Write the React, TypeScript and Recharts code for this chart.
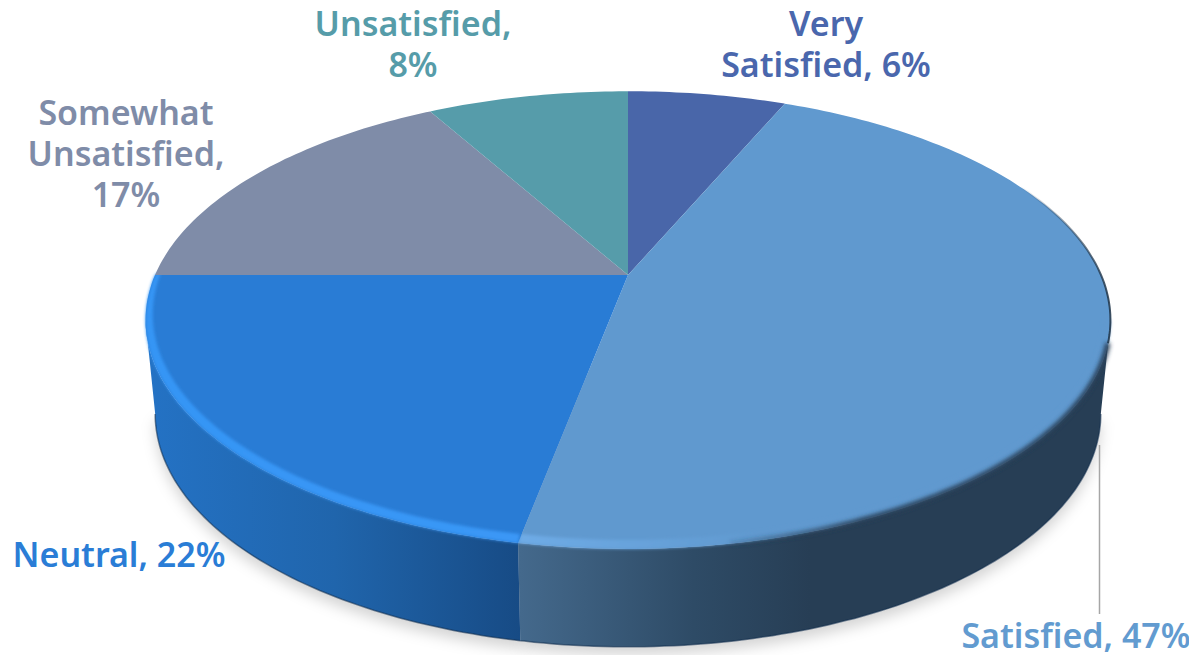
import { Pie, PieChart } from 'recharts'

const categories = ['Very Satisfied', 'Satisfied', 'Neutral', 'Somewhat Unsatisfied', 'Unsatisfied']
// shown rounded in the labels, the slice edges sit a little off the whole numbers
const shares = [6.4, 46.6, 22, 16.85, 8.15]
const labelLines = [
  ['Very', 'Satisfied, 6%'],
  ['Satisfied, 47%'],
  ['Neutral, 22%'],
  ['Somewhat', 'Unsatisfied,', '17%'],
  ['Unsatisfied,', '8%'],
]
const sliceColors = ['#4966a9', '#6099cf', '#297cd5', '#7f8ca8', '#569caa']
const labelColors = ['#4a67ad', '#629bd0', '#2a7dd6', '#7f8ca8', '#569ca9']
const labelSpots = [
  { x: 826, y: 36 },
  { x: 1076, y: 648 },
  { x: 119, y: 567 },
  { x: 126, y: 125 },
  { x: 413, y: 36 },
]

const pieRows = categories.map((name, i) => ({ name, value: shares[i] }))

// fake perspective: the circle of the pie goes through a projective map
const TILT = 0.197
const SQUASH = 0.465
const BOTTOM_SQUASH = 0.483
const DEPTH = 93
const BOTTOM_SCALE = 0.98
const RAD = Math.PI / 180
// clockwise-from-top angles where the side wall meets the silhouette
const FRONT_FROM = 101.4
const FRONT_TO = 258.6

type Pt = [number, number]

function rimPoint(angle: number, cx: number, cy: number, r: number, squash: number): Pt {
  const u = Math.cos(angle * RAD)
  const v = -Math.sin(angle * RAD)
  const w = 1 - TILT * v
  return [cx + (r * u) / w, cy + (r * squash * v) / w]
}

function arcPoints(start: number, end: number, cx: number, cy: number, r: number, squash = SQUASH) {
  const pts: Pt[] = []
  for (let a = start; a > end; a -= 1) pts.push(rimPoint(a, cx, cy, r, squash))
  pts.push(rimPoint(end, cx, cy, r, squash))
  return pts
}

function toPath(pts: Pt[], close = true) {
  const body = pts.map((p, i) => `${i ? 'L' : 'M'}${p[0].toFixed(1)} ${p[1].toFixed(1)}`).join(' ')
  return close ? `${body} Z` : body
}

function frontRange(startAngle: number, endAngle: number) {
  const from = Math.max(90 - startAngle, FRONT_FROM)
  const to = Math.min(90 - endAngle, FRONT_TO)
  return from < to ? [90 - from, 90 - to] : null
}

function TopSlice(props: any) {
  const { cx, cy, outerRadius, startAngle, endAngle, fill, index } = props
  const face = toPath([[cx, cy], ...arcPoints(startAngle, endAngle, cx, cy, outerRadius)])
  let bevel = null
  const range = frontRange(startAngle, endAngle)
  if (range) {
    // bevel runs right up to the slice edge on the left, only front part on the right
    const to = index === 2 ? endAngle : range[1]
    const outer = arcPoints(range[0], to, cx, cy, outerRadius)
    const inner = arcPoints(range[0], to, cx, cy - 5, outerRadius * 0.985).reverse()
    bevel = <path d={toPath([...outer, ...inner])} fill={`url(#bevel-${index})`} filter="url(#soft)" />
  }
  let rim = null
  if (index === 1) {
    const front = arcPoints(90 - 107, 90 - 170, cx, cy, outerRadius)
    const back = arcPoints(90 - 48, 90 - 107, cx, cy, outerRadius)
    rim = (
      <g>
        <path d={toPath(front, false)} fill="none" stroke="url(#rim-front)" strokeWidth={5} filter="url(#rim-blur)" />
        <path d={toPath(back, false)} fill="none" stroke="url(#rim-back)" strokeWidth={2} />
      </g>
    )
  }
  return (
    <g>
      <path d={face} fill={fill} />
      {bevel}
      {rim}
    </g>
  )
}

function SideSlice(props: any) {
  const { cx, cy, outerRadius, startAngle, endAngle, index } = props
  const range = frontRange(startAngle, endAngle)
  if (!range) return <g />
  const top = arcPoints(range[0], range[1], cx, cy, outerRadius)
  const bottom = arcPoints(range[0], range[1], cx, cy + DEPTH, outerRadius * BOTTOM_SCALE, BOTTOM_SQUASH)
  return (
    <g>
      <path d={toPath([...top, ...[...bottom].reverse()])} fill={`url(#side-${index})`} />
      <path d={toPath(bottom, false)} fill="none" stroke="#0e2c4c" strokeOpacity={0.55} strokeWidth={1.5} />
    </g>
  )
}

function ShadowSlice(props: any) {
  const { cx, cy, outerRadius, startAngle, endAngle } = props
  const range = frontRange(startAngle, endAngle)
  if (!range) return <g />
  const pts = arcPoints(range[0], range[1], cx, cy + DEPTH + 8, outerRadius * BOTTOM_SCALE, BOTTOM_SQUASH)
  return <path d={toPath([[cx, cy + DEPTH], ...pts])} fill="#000000" fillOpacity={0.17} filter="url(#shadow)" />
}

function renderLabel(props: any) {
  const { index } = props
  const spot = labelSpots[index]
  return (
    <text
      x={spot.x}
      y={spot.y}
      textAnchor="middle"
      fill={labelColors[index]}
      fontFamily="'Noto Sans', sans-serif"
      fontWeight={600}
      fontSize={34}
      style={{ fontVariantLigatures: 'none' }}
    >
      {labelLines[index].map((line, i) => (
        <tspan key={line} x={spot.x} dy={i ? 41 : 0}>
          {line}
        </tspan>
      ))}
    </text>
  )
}

function renderLeader(props: any) {
  if (props.index !== 1) return <g />
  return <line x1={1099.5} y1={445} x2={1099.5} y2={614} stroke="#a6a6a6" strokeWidth={1.5} />
}

export default function App() {
  return (
    <div style={{ margin: '-8px 0 0 -8px', width: 1197, height: 655 }}>
      <PieChart width={1197} height={655} margin={{ top: 0, right: 0, bottom: 0, left: 0 }}>
        <defs>
          <filter id="soft" x="-5%" y="-5%" width="110%" height="110%">
            <feGaussianBlur stdDeviation="1.6" />
          </filter>
          <filter id="rim-blur" x="-5%" y="-5%" width="110%" height="110%">
            <feGaussianBlur stdDeviation="2" />
          </filter>
          <filter id="shadow" x="-10%" y="-10%" width="120%" height="120%">
            <feGaussianBlur stdDeviation="7" />
          </filter>
          <linearGradient id="side-2" gradientUnits="userSpaceOnUse" x1={150} y1={0} x2={520} y2={0}>
            <stop offset="0" stopColor="#2472c4" />
            <stop offset="0.5" stopColor="#2065ac" />
            <stop offset="1" stopColor="#174b85" />
          </linearGradient>
          <linearGradient id="side-1" gradientUnits="userSpaceOnUse" x1={520} y1={0} x2={810} y2={0}>
            <stop offset="0" stopColor="#44698c" />
            <stop offset="0.6" stopColor="#2e4b66" />
            <stop offset="1" stopColor="#273e55" />
          </linearGradient>
          <linearGradient id="bevel-2" gradientUnits="userSpaceOnUse" x1={150} y1={0} x2={520} y2={0}>
            <stop offset="0" stopColor="#3595f5" />
            <stop offset="1" stopColor="#3a97f6" />
          </linearGradient>
          <linearGradient id="bevel-1" gradientUnits="userSpaceOnUse" x1={520} y1={0} x2={760} y2={0}>
            <stop offset="0" stopColor="#6eabe6" />
            <stop offset="1" stopColor="#6099cf" />
          </linearGradient>
          <linearGradient id="rim-front" gradientUnits="userSpaceOnUse" x1={700} y1={0} x2={860} y2={0}>
            <stop offset="0" stopColor="#273e55" stopOpacity={0} />
            <stop offset="1" stopColor="#273e55" stopOpacity={1} />
          </linearGradient>
          <linearGradient id="rim-back" gradientUnits="userSpaceOnUse" x1={1020} y1={0} x2={1108} y2={0}>
            <stop offset="0" stopColor="#1e3347" stopOpacity={0} />
            <stop offset="1" stopColor="#1e3347" stopOpacity={0.85} />
          </linearGradient>
        </defs>
        <Pie
          data={pieRows}
          dataKey="value"
          nameKey="name"
          cx={628}
          cy={275}
          outerRadius={473}
          startAngle={90}
          endAngle={-270}
          shape={ShadowSlice}
          isAnimationActive={false}
        />
        <Pie
          data={pieRows}
          dataKey="value"
          nameKey="name"
          cx={628}
          cy={275}
          outerRadius={473}
          startAngle={90}
          endAngle={-270}
          shape={SideSlice}
          isAnimationActive={false}
        />
        <Pie
          data={pieRows.map((row, i) => ({ ...row, fill: sliceColors[i] }))}
          dataKey="value"
          nameKey="name"
          cx={628}
          cy={275}
          outerRadius={473}
          startAngle={90}
          endAngle={-270}
          shape={TopSlice}
          label={renderLabel}
          labelLine={renderLeader}
          isAnimationActive={false}
        />
      </PieChart>
    </div>
  )
}
